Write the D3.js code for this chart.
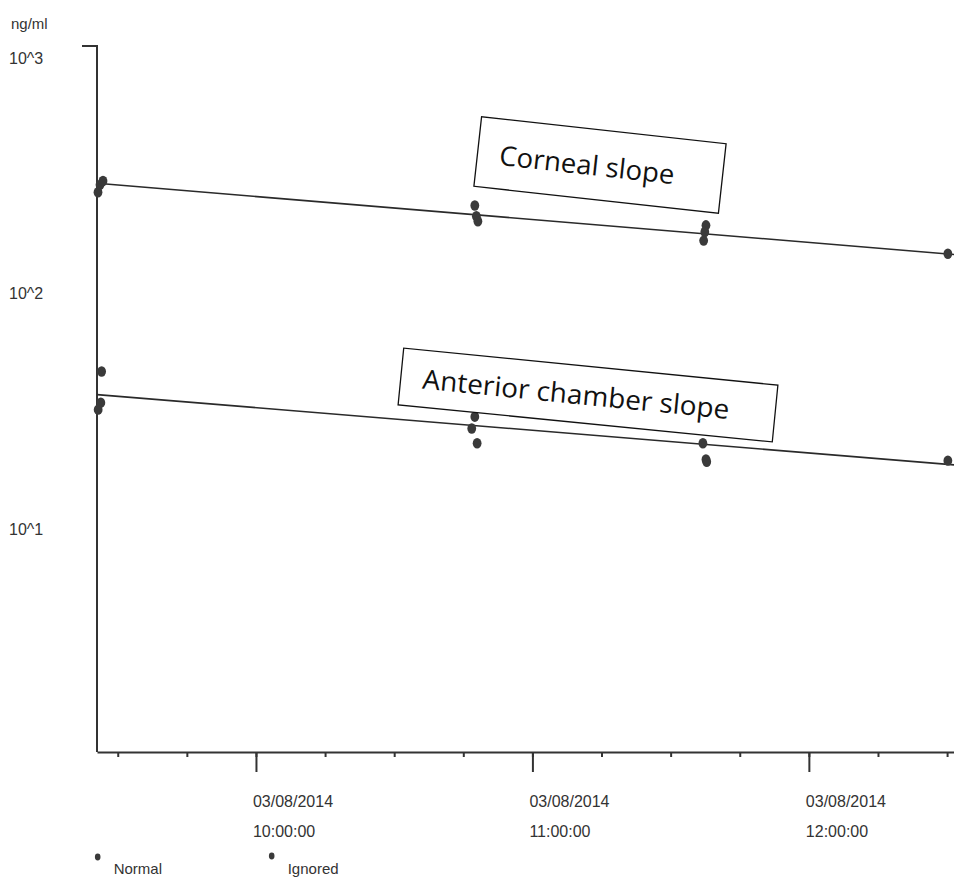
<!DOCTYPE html>
<html>
<head>
<meta charset="utf-8">
<script src="https://cdn.jsdelivr.net/npm/d3@7"></script>
<style>
  html, body { margin: 0; padding: 0; background: #ffffff; }
  svg { display: block; }
  .lbl { font-family: "Liberation Sans", Arial, sans-serif; fill: #333; }
  .note { font-family: "Open Sans", "Noto Sans", sans-serif; fill: #111; }
</style>
</head>
<body>
<svg id="chart" width="954" height="878"></svg>
<script>
// Sample times and concentrations (ng/ml), 03/08/2014
const cornealTimes  = ["09:25:43", "09:26:09", "09:26:48", "10:47:30", "10:47:50", "10:48:10", "11:37:40", "11:37:25", "11:37:10", "12:30:10"];
const cornealValues = [239, 257, 267, 210, 189, 180, 173, 162, 149, 131];

const chamberTimes  = ["09:26:30", "09:26:20", "09:25:45", "10:47:30", "10:46:50", "10:48:00", "11:37:00", "11:37:40", "11:37:50", "12:30:10"];
const chamberValues = [41.4, 30.5, 28.5, 26.6, 23.7, 20.5, 20.5, 17.5, 17.1, 17.3];

// Fitted log-linear slopes, value at start and end of the time window
const fitTimes        = ["09:25:30", "12:31:30"];
const cornealFit      = [261, 130];
const chamberFit      = [33.0, 16.6];

// Axis labels
const yTickValues     = [1000, 100, 10];
const yTickLabels     = ["10^3", "10^2", "10^1"];
const xMajorTimes     = ["10:00:00", "11:00:00", "12:00:00"];
const xDateLabel      = "03/08/2014";
const yUnit           = "ng/ml";
const legendLabels    = ["Normal", "Ignored"];
const noteLabels      = ["Corneal slope", "Anterior chamber slope"];

const parse = d3.timeParse("%H:%M:%S");
const svg = d3.select("#chart");

const x = d3.scaleTime()
  .domain([parse(fitTimes[0]), parse(fitTimes[1])])
  .range([97, 954]);
const y = d3.scaleLog()
  .domain([1, 1000])
  .range([752, 46]);

const ink = "#333";

// x axis: quarter-hour minor ticks
const xMinor = d3.axisBottom(x)
  .ticks(d3.timeMinute.every(15))
  .tickSize(5)
  .tickSizeOuter(0)
  .tickFormat("");
const gx = svg.append("g").attr("transform", `translate(0,${y(1)})`).call(xMinor);
gx.select(".domain").attr("stroke", ink).attr("stroke-width", 2);
gx.selectAll(".tick line").attr("stroke", ink).attr("stroke-width", 2);

// x axis: hourly major ticks with two-line labels
const majors = xMajorTimes.map(parse);
const gxm = svg.append("g").attr("transform", `translate(0,${y(1)})`)
  .call(d3.axisBottom(x).tickValues(majors).tickSize(20).tickFormat(""));
gxm.select(".domain").remove();
gxm.selectAll(".tick line").attr("stroke", ink).attr("stroke-width", 2);

const xl = svg.append("g");
majors.forEach((t, i) => {
  xl.append("text").attr("class", "lbl")
    .attr("x", x(t) - 3).attr("y", 807)
    .attr("font-size", 16).text(xDateLabel);
  xl.append("text").attr("class", "lbl")
    .attr("x", x(t) - 3).attr("y", 837)
    .attr("font-size", 16).text(xMajorTimes[i]);
});

// y axis: line with a cap at the top decade
svg.append("path")
  .attr("d", `M${x.range()[0] - 15},${y(1000)}H${x.range()[0]}V${y(1)}`)
  .attr("fill", "none").attr("stroke", ink).attr("stroke-width", 2);

yTickValues.forEach((v, i) => {
  svg.append("text").attr("class", "lbl")
    .attr("x", 9).attr("y", y(v) + 18)
    .attr("font-size", 16).text(yTickLabels[i]);
});
svg.append("text").attr("class", "lbl")
  .attr("x", 11).attr("y", 29).attr("font-size", 15).text(yUnit);

// fitted slopes
const line = d3.line().x(d => x(d.t)).y(d => y(d.v));
[cornealFit, chamberFit].forEach(vals => {
  svg.append("path")
    .datum(fitTimes.map((t, i) => ({ t: parse(t), v: vals[i] })))
    .attr("d", line)
    .attr("fill", "none").attr("stroke", "#2a2a2a").attr("stroke-width", 1.6);
});

// samples
const samples = [
  ...cornealTimes.map((t, i) => ({ t: parse(t), v: cornealValues[i] })),
  ...chamberTimes.map((t, i) => ({ t: parse(t), v: chamberValues[i] }))
];
svg.append("g").selectAll("ellipse").data(samples).join("ellipse")
  .attr("cx", d => x(d.t)).attr("cy", d => y(d.v))
  .attr("rx", 4.4).attr("ry", 5.2)
  .attr("fill", "#3a3a3a");

// annotation boxes
const notes = [
  { text: noteLabels[0], cx: 600, cy: 165, w: 246, h: 70, angle: 6.3, tx: -101, ty: 11, len: 176 },
  { text: noteLabels[1], cx: 588, cy: 395, w: 376, h: 57, angle: 5.65, tx: -166, ty: 10, len: 308 }
];
notes.forEach(n => {
  const g = svg.append("g").attr("transform", `translate(${n.cx},${n.cy}) rotate(${n.angle})`);
  g.append("rect")
    .attr("x", -n.w / 2).attr("y", -n.h / 2)
    .attr("width", n.w).attr("height", n.h)
    .attr("fill", "#fff").attr("stroke", "#111").attr("stroke-width", 1.3);
  g.append("text").attr("class", "note")
    .attr("x", n.tx).attr("y", n.ty)
    .attr("font-size", 27)
    .attr("textLength", n.len).attr("lengthAdjust", "spacingAndGlyphs")
    .text(n.text);
});

// legend
const lg = svg.append("g");
[[97.7, 857], [271.7, 856]].forEach((p, i) => {
  lg.append("ellipse").attr("cx", p[0]).attr("cy", p[1]).attr("rx", 2.8).attr("ry", 3.4).attr("fill", "#3a3a3a");
  lg.append("text").attr("class", "lbl")
    .attr("x", p[0] + 16).attr("y", 874).attr("font-size", 15).text(legendLabels[i]);
});
</script>
</body>
</html>
